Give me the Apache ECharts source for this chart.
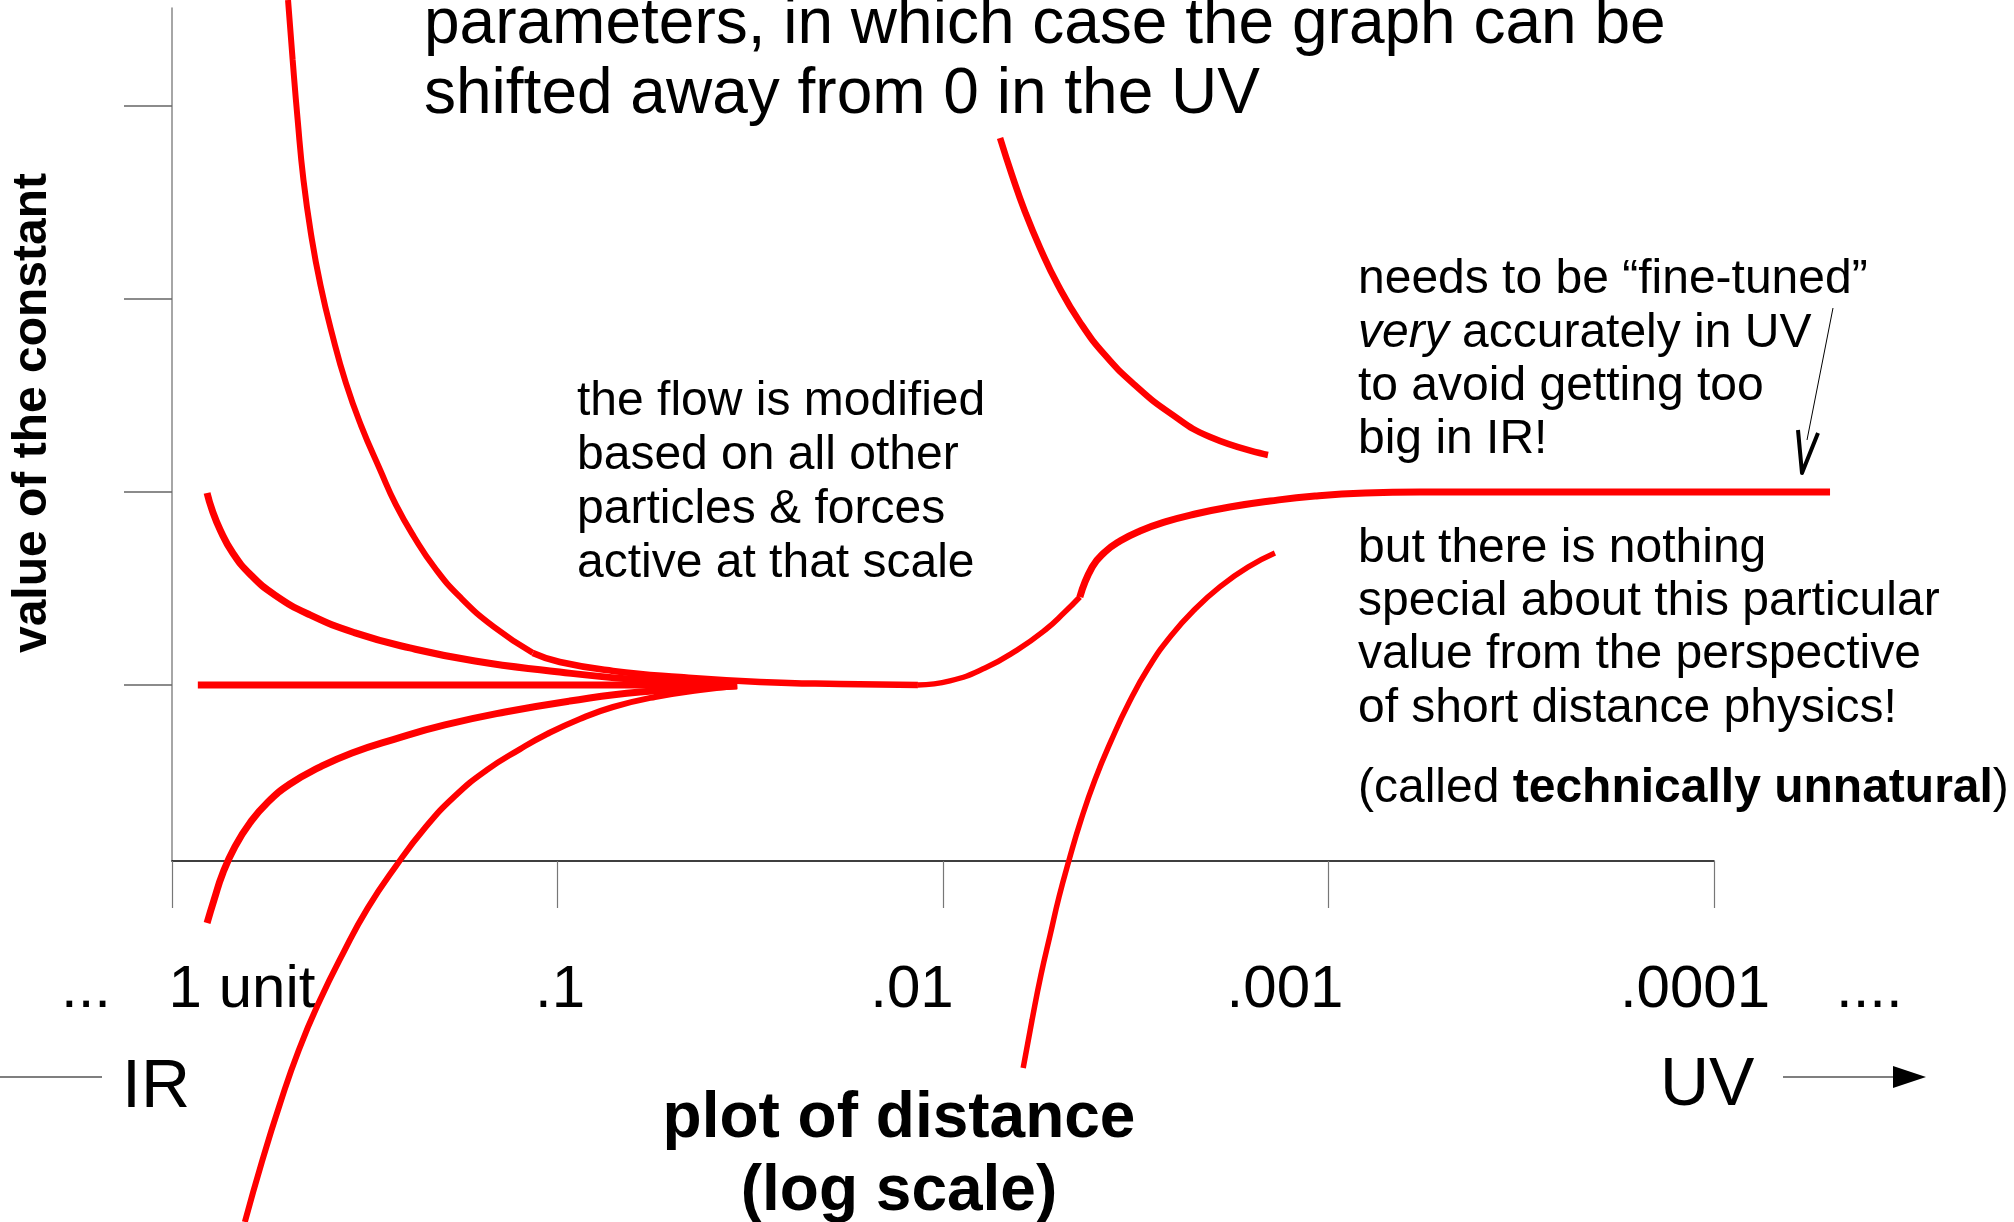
<!DOCTYPE html>
<html>
<head>
<meta charset="utf-8">
<script src="https://cdn.jsdelivr.net/npm/echarts@6.0.0/dist/echarts.min.js"></script>
<style>
  html, body { margin: 0; padding: 0; background: #fff; }
  #flow-chart { width: 2014px; height: 1222px; }
</style>
</head>
<body>
<div id="flow-chart"></div>
<script>
// x = decades of distance (0 = 1 unit, 4 = .0001), y = value of the constant
var tickLabels = ['1 unit', '.1', '.01', '.001', '.0001'];
var yTicks = [1, 2, 3, 4];

// IR starting values that all flow to the same low-energy value
var irFlat = [[0.067, 1.0], [1.466, 1.0]];
var irHighBranch = [[0.091, 1.995], [0.104, 1.907], [0.125, 1.803], [0.156, 1.689], [0.202, 1.575], [0.267, 1.466], [0.358, 1.363], [0.475, 1.270], [0.617, 1.192], [0.786, 1.124], [0.981, 1.073], [1.188, 1.031], [1.466, 1.0]];
var irLowBranch = [[0.091, -0.233], [0.109, -0.114], [0.132, 0.026], [0.163, 0.161], [0.202, 0.285], [0.249, 0.394], [0.306, 0.487], [0.379, 0.570], [0.467, 0.648], [0.578, 0.720], [0.708, 0.793], [0.864, 0.860], [1.032, 0.917], [1.214, 0.964], [1.466, 0.995]];
var irSteepLow = [[0.189, -1.782], [0.233, -1.472], [0.280, -1.171], [0.329, -0.891], [0.384, -0.632], [0.444, -0.389], [0.508, -0.155], [0.581, 0.062], [0.656, 0.259], [0.734, 0.425], [0.817, 0.560], [0.903, 0.668], [0.973, 0.746], [1.058, 0.824], [1.144, 0.886], [1.253, 0.938], [1.370, 0.974], [1.466, 0.995]];

// the flow that is followed all the way to the UV
var irSteepHigh = [[0.301, 4.549], [0.313, 4.238], [0.326, 3.927], [0.341, 3.617], [0.361, 3.332], [0.385, 3.073], [0.416, 2.813], [0.451, 2.565], [0.490, 2.347], [0.540, 2.114], [0.581, 1.933], [0.628, 1.767], [0.682, 1.606], [0.747, 1.456], [0.835, 1.301], [0.936, 1.166]];
var flowPlateau = [[0.936, 1.166], [1.006, 1.119], [1.144, 1.073], [1.318, 1.041], [1.525, 1.016], [1.733, 1.005], [1.935, 1.0]];
var flowRise = [[1.935, 1.0], [2.018, 1.021], [2.109, 1.088], [2.192, 1.181], [2.265, 1.285], [2.316, 1.378], [2.355, 1.456]];
var uvApproach = [[2.355, 1.456], [2.387, 1.611], [2.420, 1.689], [2.459, 1.746], [2.511, 1.798], [2.576, 1.845], [2.654, 1.886], [2.744, 1.922], [2.848, 1.953], [2.965, 1.979], [3.095, 1.995], [3.237, 2.0], [4.301, 2.0]];

// neighbouring UV values drift away
var uvHighBranch = [[2.148, 3.834], [2.179, 3.642], [2.213, 3.451], [2.252, 3.264], [2.298, 3.073], [2.355, 2.881], [2.420, 2.710], [2.498, 2.554], [2.589, 2.409], [2.693, 2.285], [2.843, 2.192]];
var uvLowBranch = [[2.208, -0.984], [2.231, -0.736], [2.254, -0.503], [2.278, -0.295], [2.301, -0.098], [2.327, 0.093], [2.358, 0.301], [2.394, 0.508], [2.436, 0.710], [2.482, 0.907], [2.534, 1.093], [2.591, 1.254], [2.654, 1.394], [2.721, 1.513], [2.791, 1.611], [2.861, 1.684]];

var FONT = '"Liberation Sans", Arial, sans-serif';
var RED = '#ff0000';

// 页面尺寸与比例（像素）
var W = 2014, H = 1222;
var X0 = 172, PX_DEC = 385.5;      // x = 0 位置, 每个十进位的宽度
var Y1 = 685, PX_UNIT = 193;       // y = 1 位置, 每个单位的高度
var AXIS_Y = 861, AXIS_TOP = 8, AXIS_RIGHT = X0 + 4 * PX_DEC;

var flowChart = echarts.init(document.getElementById('flow-chart'));

// 曲线
function curve(name, data, width) {
  return {
    name: name,
    type: 'line',
    xAxisIndex: 0,
    yAxisIndex: 0,
    data: data,
    smooth: 0.5,
    showSymbol: false,
    clip: false,
    silent: true,
    z: 5,
    lineStyle: { color: RED, width: width, cap: 'butt' }
  };
}

// 注释文字，y 为基线
function note(x, baseline, text, size, rich) {
  var st = {
    text: text,
    fontSize: size,
    fontFamily: FONT,
    fill: '#000',
    align: 'left',
    verticalAlign: 'middle'
  };
  if (rich) st.rich = rich;
  return { type: 'text', x: x, y: baseline - 0.28 * size, style: st, silent: true };
}

var r48 = {
  i: { fontStyle: 'italic', fontSize: 48, fontFamily: FONT },
  b: { fontWeight: 'bold', fontSize: 48, fontFamily: FONT },
  n: { fontSize: 48, fontFamily: FONT }
};

var option = {
  animation: false,
  backgroundColor: '#fff',
  grid: [
    // 数据网格：铺满整个画布，比例与坐标轴网格相同
    { left: 0, right: 0, top: 0, bottom: 0, outerBoundsMode: 'none', containLabel: false },
    // 坐标轴网格
    { left: X0, right: W - AXIS_RIGHT, top: AXIS_TOP, bottom: H - AXIS_Y, outerBoundsMode: 'none', containLabel: false }
  ],
  xAxis: [
    { gridIndex: 0, type: 'value', show: false, min: -X0 / PX_DEC, max: (W - X0) / PX_DEC },
    {
      gridIndex: 1,
      type: 'value',
      min: 0,
      max: 4,
      interval: 1,
      name: 'plot of distance\n(log scale)',
      nameLocation: 'middle',
      nameGap: 222,
      nameTextStyle: { fontSize: 64, fontWeight: 'bold', fontFamily: FONT, color: '#000', lineHeight: 73, padding: [0, 88, 0, 0] },
      axisLine: { onZero: false, lineStyle: { color: '#000', width: 1.5 } },
      axisTick: { show: true, length: 47, lineStyle: { color: '#777', width: 1.2 } },
      splitLine: { show: false },
      axisLabel: {
        margin: 99,
        showMinLabel: true,
        showMaxLabel: true,
        fontSize: 60,
        fontFamily: FONT,
        color: '#000',
        formatter: function (v) {
          var i = Math.round(v);
          return '{t' + i + '|' + tickLabels[i] + '}';
        },
        rich: {
          t0: { fontSize: 60, fontFamily: FONT, padding: [0, 0, 0, 140] },
          t1: { fontSize: 60, fontFamily: FONT, padding: [0, 0, 0, 5] },
          t2: { fontSize: 60, fontFamily: FONT, padding: [0, 62, 0, 0] },
          t3: { fontSize: 60, fontFamily: FONT, padding: [0, 87, 0, 0] },
          t4: { fontSize: 60, fontFamily: FONT, padding: [0, 38, 0, 0] }
        }
      }
    }
  ],
  yAxis: [
    { gridIndex: 0, type: 'value', show: false, min: 1 - (H - Y1) / PX_UNIT, max: 1 + Y1 / PX_UNIT },
    {
      gridIndex: 1,
      type: 'value',
      min: 1 - (AXIS_Y - Y1) / PX_UNIT,
      max: 1 + (Y1 - AXIS_TOP) / PX_UNIT,
      name: 'value of the constant',
      nameLocation: 'middle',
      nameGap: 115,
      nameTextStyle: { fontSize: 48, fontWeight: 'bold', fontFamily: FONT, color: '#000', padding: [0, 0, 0, 43] },
      axisLine: { show: true, lineStyle: { color: '#888', width: 1.5 } },
      axisTick: { show: true, length: 48, customValues: yTicks, lineStyle: { color: '#666', width: 1.5 } },
      axisLabel: { show: false },
      splitLine: { show: false }
    }
  ],
  series: [
    curve('irFlat', irFlat, 7),
    curve('irHighBranch', irHighBranch, 7),
    curve('irLowBranch', irLowBranch, 7),
    curve('irSteepLow', irSteepLow, 6),
    curve('irSteepHigh', irSteepHigh, 6),
    curve('flowPlateau', flowPlateau, 6.5),
    curve('flowRise', flowRise, 5.5),
    curve('uvApproach', uvApproach, 7),
    curve('uvHighBranch', uvHighBranch, 6.5),
    curve('uvLowBranch', uvLowBranch, 5.5)
  ],
  graphic: [
    note(424, 43, 'parameters, in which case the graph can be', 64),
    note(424, 113, 'shifted away from 0 in the UV', 64),

    note(577, 415, 'the flow is modified', 48),
    note(577, 469, 'based on all other', 48),
    note(577, 523, 'particles & forces', 48),
    note(577, 577, 'active at that scale', 48),

    note(1358, 293, 'needs to be \u201cfine-tuned\u201d', 48),
    note(1358, 347, '{i|very}{n| accurately in UV}', 48, r48),
    note(1358, 400, 'to avoid getting too', 48),
    note(1358, 453, 'big in IR!', 48),

    note(1358, 562, 'but there is nothing', 48),
    note(1358, 615, 'special about this particular', 48),
    note(1358, 668, 'value from the perspective', 48),
    note(1358, 722, 'of short distance physics!', 48),
    note(1358, 802, '{n|(called }{b|technically unnatural}{n|)}', 48, r48),

    // dots beyond the axis ends
    note(61, 1007, '...', 60),
    note(1836, 1007, '....', 60),

    // IR / UV direction
    { type: 'line', shape: { x1: 0, y1: 1077, x2: 102, y2: 1077 }, style: { stroke: '#555', lineWidth: 1.5 }, silent: true },
    note(122, 1107, 'IR', 68),
    note(1660, 1105, 'UV', 68),
    { type: 'line', shape: { x1: 1783, y1: 1077, x2: 1895, y2: 1077 }, style: { stroke: '#555', lineWidth: 1.5 }, silent: true },
    { type: 'polygon', shape: { points: [[1893, 1066], [1926, 1077], [1893, 1088]] }, style: { fill: '#000' }, silent: true },

    // pointer to the UV value
    { type: 'line', shape: { x1: 1833, y1: 308, x2: 1807, y2: 440 }, style: { stroke: '#000', lineWidth: 1 }, silent: true },
    { type: 'polyline', shape: { points: [[1798, 430], [1802, 473], [1818, 433]] }, style: { stroke: '#000', lineWidth: 4, fill: null, lineJoin: 'round' }, silent: true }
  ]
};

flowChart.setOption(option);
</script>
</body>
</html>
